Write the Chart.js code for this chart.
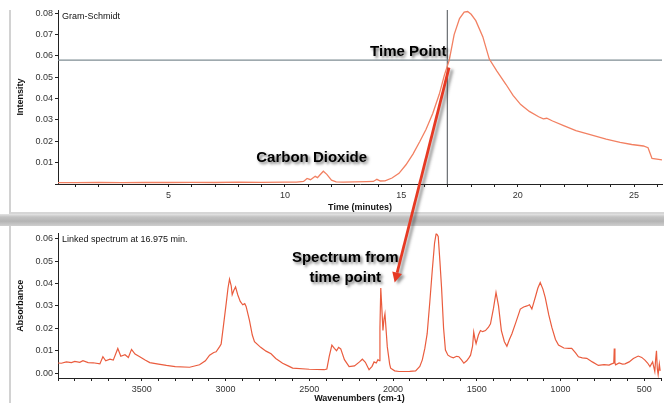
<!DOCTYPE html>
<html>
<head>
<meta charset="utf-8">
<script src="https://cdn.jsdelivr.net/npm/chart.js@4/dist/chart.umd.min.js"></script>
<style>
  html, body { margin: 0; padding: 0; background: #ffffff; overflow: hidden; width: 664px; height: 403px; }
  #wrap { position: relative; width: 664px; height: 403px; overflow: hidden; }
  .panel { position: absolute; background: #fff; border-left: 2px solid #d2d2d2; box-sizing: border-box; }
  #sep { position: absolute; left: 0; top: 214px; width: 664px; height: 12px;
         background: linear-gradient(#e4e4e4 0%, #c2c2c2 25%, #b4b4b4 60%, #cfcfcf 100%); }
  canvas { position: absolute; }
  #overlay { left: 0; top: 0; pointer-events: none; }
</style>
</head>
<body>
<div id="wrap">
  <div class="panel" style="left:9px; top:10px; width:655px; height:204px; border-bottom:2px solid #d6d6d6;"></div>
  <div id="sep"></div>
  <div class="panel" style="left:9px; top:226px; width:655px; height:180px;"></div>
  <canvas id="top" width="653" height="214" style="left:11px; top:0px; width:653px; height:214px;"></canvas>
  <canvas id="bottom" width="653" height="182" style="left:11px; top:226px; width:653px; height:182px;"></canvas>
  <canvas id="overlay" width="664" height="403"></canvas>
</div>
<script>
// ---------------- DATA ----------------
const gsTime = [0.25, 1, 2, 3, 4, 5, 6, 7, 8, 9, 10, 10.5, 10.8, 10.95, 11.1, 11.3, 11.4, 11.5, 11.65, 11.8, 12.0, 12.2, 12.5, 13, 13.5, 13.8, 13.95, 14.1, 14.3, 14.6, 14.9, 15.2, 15.5, 15.8, 16.06, 16.35, 16.63, 16.85, 17.06, 17.27, 17.5, 17.7, 17.85, 18.0, 18.2, 18.5, 18.78, 19.1, 19.5, 19.8, 20.13, 20.5, 20.9, 21.1, 21.25, 21.5, 22.0, 22.5, 23.0, 23.8, 24.4, 24.9, 25.4, 25.6, 25.77, 26.2];
const gsIntensity = [0.0006, 0.0006, 0.0007, 0.0006, 0.0008, 0.0007, 0.0008, 0.0007, 0.0009, 0.0008, 0.0009, 0.0009, 0.0012, 0.0026, 0.0020, 0.0036, 0.0030, 0.0042, 0.0060, 0.0045, 0.0018, 0.0010, 0.0009, 0.0010, 0.0011, 0.0012, 0.0022, 0.0014, 0.0015, 0.0028, 0.0050, 0.0090, 0.0140, 0.0200, 0.0255, 0.0330, 0.0420, 0.0510, 0.0580, 0.0700, 0.0775, 0.0805, 0.0808, 0.0795, 0.0765, 0.0690, 0.0585, 0.0530, 0.0466, 0.0415, 0.0372, 0.0340, 0.0315, 0.0305, 0.0308, 0.0295, 0.0272, 0.0250, 0.0235, 0.0210, 0.0195, 0.0185, 0.0178, 0.0170, 0.0120, 0.0113];
const timePoint = 16.975;
const timePointLevel = 0.058;
const timeTickLabels = [5, 10, 15, 20, 25];
const intensityTickLabels = [0.01, 0.02, 0.03, 0.04, 0.05, 0.06, 0.07, 0.08];

const specWavenumber = [4000, 3980, 3950, 3920, 3900, 3870, 3851, 3820, 3790, 3750, 3732, 3715, 3690, 3670, 3643, 3625, 3600, 3580, 3561, 3540, 3512, 3480, 3452, 3400, 3353, 3300, 3214, 3155, 3120, 3095, 3070, 3056, 3035, 3026, 3012, 2996, 2985, 2976, 2966, 2960, 2950, 2940, 2927, 2912, 2897, 2885, 2877, 2857, 2840, 2827, 2790, 2758, 2728, 2700, 2659, 2620, 2599, 2500, 2410, 2395, 2381, 2365, 2350, 2337, 2325, 2312, 2290, 2262, 2230, 2200, 2183, 2165, 2143, 2125, 2113, 2100, 2090, 2082, 2078, 2073, 2066, 2060, 2054, 2048, 2040, 2034, 2020, 2014, 1990, 1964, 1900, 1865, 1840, 1825, 1810, 1796, 1780, 1766, 1752, 1742, 1730, 1720, 1710, 1698, 1687, 1672, 1657, 1640, 1620, 1607, 1590, 1577, 1560, 1545, 1537, 1525, 1518, 1510, 1504, 1490, 1478, 1465, 1448, 1430, 1418, 1400, 1385, 1370, 1353, 1335, 1320, 1305, 1290, 1265, 1240, 1220, 1200, 1185, 1171, 1150, 1135, 1121, 1105, 1091, 1070, 1052, 1030, 1012, 980, 950, 933, 910, 893, 870, 843, 810, 774, 740, 710, 695, 682, 679, 675, 671, 650, 630, 615, 590, 565, 536, 515, 496, 480, 466, 450, 437, 432, 427, 422, 417, 410, 405];
const specAbsorbance = [0.0045, 0.0044, 0.0050, 0.0047, 0.0052, 0.0048, 0.0055, 0.0047, 0.0046, 0.0041, 0.0073, 0.0055, 0.0062, 0.0058, 0.0110, 0.0075, 0.0082, 0.0070, 0.0106, 0.0085, 0.0073, 0.0058, 0.0047, 0.0040, 0.0034, 0.0029, 0.0026, 0.0037, 0.0055, 0.0080, 0.0092, 0.0095, 0.0118, 0.0130, 0.0213, 0.0310, 0.0380, 0.0420, 0.0390, 0.0350, 0.0370, 0.0385, 0.0350, 0.0320, 0.0305, 0.0310, 0.0298, 0.0235, 0.0170, 0.0140, 0.0115, 0.0098, 0.0086, 0.0065, 0.0044, 0.0030, 0.0022, 0.0017, 0.0015, 0.0018, 0.0073, 0.0125, 0.0110, 0.0100, 0.0115, 0.0108, 0.0060, 0.0029, 0.0032, 0.0050, 0.0062, 0.0048, 0.0015, 0.0030, 0.0050, 0.0045, 0.0060, 0.0055, 0.0200, 0.0380, 0.0280, 0.0190, 0.0240, 0.0265, 0.0180, 0.0117, 0.0040, 0.0022, 0.0010, 0.0007, 0.0008, 0.0010, 0.0030, 0.0059, 0.0110, 0.0176, 0.0320, 0.0455, 0.0580, 0.0625, 0.0610, 0.0500, 0.0380, 0.0200, 0.0103, 0.0080, 0.0073, 0.0068, 0.0075, 0.0073, 0.0058, 0.0044, 0.0055, 0.0070, 0.0080, 0.0120, 0.0183, 0.0150, 0.0132, 0.0170, 0.0190, 0.0185, 0.0190, 0.0205, 0.0220, 0.0290, 0.0360, 0.0300, 0.0190, 0.0140, 0.0120, 0.0150, 0.0176, 0.0230, 0.0286, 0.0295, 0.0300, 0.0305, 0.0286, 0.0340, 0.0380, 0.0404, 0.0375, 0.0337, 0.0260, 0.0205, 0.0150, 0.0125, 0.0112, 0.0110, 0.0110, 0.0090, 0.0073, 0.0068, 0.0066, 0.0050, 0.0034, 0.0038, 0.0036, 0.0041, 0.0045, 0.0110, 0.0045, 0.0037, 0.0045, 0.0040, 0.0041, 0.0050, 0.0065, 0.0076, 0.0070, 0.0058, 0.0045, 0.0029, 0.0050, 0.0007, 0.0060, 0.0100, 0.0020, -0.0007, 0.0040, 0.0010];
const wavenumberTickLabels = [3500, 3000, 2500, 2000, 1500, 1000, 500];
const absorbanceTickLabels = [0.00, 0.01, 0.02, 0.03, 0.04, 0.05, 0.06];

// ---------------- STYLE ----------------
const FONT = '"Liberation Sans", Arial, sans-serif';
const tickFont = { family: FONT, size: 9 };
const titleFont = { family: FONT, size: 9, weight: 'bold' };
const axisColor = '#333';

function shadowText(ctx, text, x, y, size) {
  ctx.save();
  ctx.font = 'bold ' + size + 'px ' + FONT;
  ctx.textAlign = 'center';
  ctx.textBaseline = 'middle';
  ctx.shadowColor = 'rgba(0,0,0,0.55)';
  ctx.shadowBlur = 3;
  ctx.shadowOffsetX = 2;
  ctx.shadowOffsetY = 2;
  ctx.fillStyle = '#000';
  ctx.fillText(text, x, y);
  ctx.restore();
}

function cornerLabel(text) {
  return {
    id: 'cornerLabel',
    afterDraw(chart) {
      const { ctx, chartArea } = chart;
      ctx.save();
      ctx.font = '9px ' + FONT;
      ctx.fillStyle = '#111';
      ctx.textBaseline = 'top';
      ctx.fillText(text, chartArea.left + 4, chartArea.top + 2);
      ctx.restore();
    }
  };
}

const topAnnotations = {
  id: 'topAnnotations',
  afterDraw(chart) {
    const { ctx } = chart;
    const xs = chart.scales.x, ys = chart.scales.y;
    shadowText(ctx, 'Time Point', xs.getPixelForValue(15.3), ys.getPixelForValue(0.0618), 15);
    shadowText(ctx, 'Carbon Dioxide', xs.getPixelForValue(11.15), ys.getPixelForValue(0.0123), 15);
  }
};

const bottomAnnotations = {
  id: 'bottomAnnotations',
  afterDraw(chart) {
    const { ctx } = chart;
    const xs = chart.scales.x, ys = chart.scales.y;
    shadowText(ctx, 'Spectrum from', xs.getPixelForValue(2285), ys.getPixelForValue(0.0513), 15);
    shadowText(ctx, 'time point', xs.getPixelForValue(2285), ys.getPixelForValue(0.0425), 15);
  }
};

const yAxisBase = (min, max, labels, title) => ({
  type: 'linear', min: min, max: max,
  afterFit: s => { s.width = 47; },
  border: { display: true, color: '#222', dash: [1, 2], width: 1 },
  grid: { display: true, drawOnChartArea: false, drawTicks: true, tickLength: 3, color: '#222' },
  ticks: {
    stepSize: 0.01, includeBounds: false, color: axisColor, font: tickFont, padding: 2,
    callback: v => labels.some(l => Math.abs(l - v) < 1e-6) ? v.toFixed(2) : ''
  },
  title: { display: true, text: title, font: titleFont, color: '#111', padding: { top: 4, bottom: 0 } }
});

// ---------------- TOP CHART ----------------
const topChart = new Chart(document.getElementById('top'), {
  type: 'line',
  data: {
    datasets: [
      { data: gsTime.map((t, i) => ({ x: t, y: gsIntensity[i] })), borderColor: 'rgb(242,128,98)', borderWidth: 1.3, pointRadius: 0, tension: 0, order: 1 },
      { data: [{ x: 0.25, y: timePointLevel }, { x: 26.2, y: timePointLevel }], borderColor: '#7f8d93', borderWidth: 1.2, pointRadius: 0, order: 2 },
      { data: [{ x: timePoint, y: 0 }, { x: timePoint, y: 0.0815 }], borderColor: '#4a4f55', borderWidth: 1, pointRadius: 0, order: 2 }
    ]
  },
  options: {
    responsive: false, maintainAspectRatio: false, animation: false, devicePixelRatio: 1,
    layout: { padding: { top: 10, right: 2, left: 0, bottom: 0 } },
    plugins: { legend: { display: false }, tooltip: { enabled: false } },
    scales: {
      x: {
        type: 'linear', min: 0.25, max: 26.2,
        afterFit: s => { s.height = 30; },
        border: { display: true, color: '#222', width: 1 },
        grid: { display: true, drawOnChartArea: false, drawTicks: true, tickLength: 3, color: '#222' },
        ticks: {
          stepSize: 1, includeBounds: false, autoSkip: false, maxRotation: 0, color: axisColor, font: tickFont, padding: 3,
          callback: v => timeTickLabels.includes(Math.round(v)) && Math.abs(v - Math.round(v)) < 1e-6 ? String(Math.round(v)) : ''
        },
        title: { display: true, text: 'Time (minutes)', font: titleFont, color: '#111', padding: { top: 0, bottom: 1 } }
      },
      y: yAxisBase(0, 0.0815, intensityTickLabels, 'Intensity')
    }
  },
  plugins: [cornerLabel('Gram-Schmidt'), topAnnotations]
});

// ---------------- BOTTOM CHART ----------------
const botChart = new Chart(document.getElementById('bottom'), {
  type: 'line',
  data: {
    datasets: [
      { data: specWavenumber.map((w, i) => ({ x: w, y: specAbsorbance[i] })), borderColor: 'rgb(234,92,62)', borderWidth: 1.2, pointRadius: 0, tension: 0 }
    ]
  },
  options: {
    responsive: false, maintainAspectRatio: false, animation: false, devicePixelRatio: 1,
    layout: { padding: { top: 6, right: 2, left: 0, bottom: 0 } },
    plugins: { legend: { display: false }, tooltip: { enabled: false } },
    scales: {
      x: {
        type: 'linear', min: 400, max: 4000, reverse: true,
        afterFit: s => { s.height = 30; },
        border: { display: true, color: '#222', width: 1 },
        grid: { display: true, drawOnChartArea: false, drawTicks: true, tickLength: 3, color: '#222' },
        ticks: {
          stepSize: 100, includeBounds: false, autoSkip: false, maxRotation: 0, color: axisColor, font: tickFont, padding: 3,
          callback: v => wavenumberTickLabels.includes(Math.round(v)) ? String(Math.round(v)) : ''
        },
        title: { display: true, text: 'Wavenumbers (cm-1)', font: titleFont, color: '#111', padding: { top: 0, bottom: 4 } }
      },
      y: yAxisBase(-0.0022, 0.0624, absorbanceTickLabels, 'Absorbance')
    }
  },
  plugins: [cornerLabel('Linked spectrum at 16.975 min.'), bottomAnnotations]
});

// ---------------- CROSS-PANEL ARROW ----------------
function drawArrow() {
  const ov = document.getElementById('overlay');
  const ctx = ov.getContext('2d');
  ctx.clearRect(0, 0, 664, 403);
  const topOff = { x: 11, y: 0 }, botOff = { x: 11, y: 226 };
  const x1 = topOff.x + topChart.scales.x.getPixelForValue(17.05);
  const y1 = topOff.y + topChart.scales.y.getPixelForValue(0.0545);
  const x2 = botOff.x + botChart.scales.x.getPixelForValue(1990);
  const y2 = botOff.y + botChart.scales.y.getPixelForValue(0.0405);
  const ang = Math.atan2(y2 - y1, x2 - x1);
  const headLen = 10, headW = 5;
  const bx = x2 - headLen * Math.cos(ang), by = y2 - headLen * Math.sin(ang);
  ctx.save();
  ctx.shadowColor = 'rgba(60,60,60,0.55)';
  ctx.shadowBlur = 3;
  ctx.shadowOffsetX = 3;
  ctx.shadowOffsetY = 2;
  ctx.strokeStyle = '#e63a24';
  ctx.fillStyle = '#e63a24';
  ctx.lineWidth = 2.8;
  ctx.lineCap = 'butt';
  ctx.beginPath();
  ctx.moveTo(x1, y1);
  ctx.lineTo(bx, by);
  ctx.stroke();
  ctx.beginPath();
  ctx.moveTo(x2, y2);
  ctx.lineTo(bx + headW * Math.sin(ang), by - headW * Math.cos(ang));
  ctx.lineTo(bx - headW * Math.sin(ang), by + headW * Math.cos(ang));
  ctx.closePath();
  ctx.fill();
  ctx.restore();
}
drawArrow();
</script>
</body>
</html>
